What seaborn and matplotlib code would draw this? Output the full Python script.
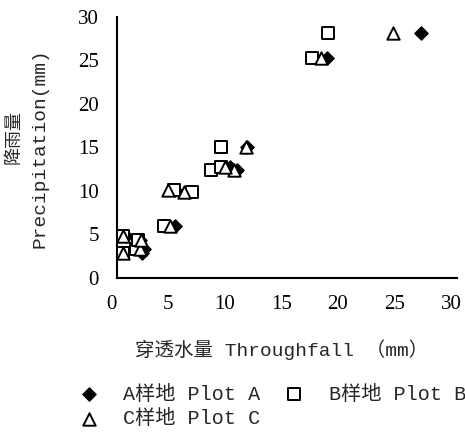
import matplotlib
matplotlib.use("Agg")
import matplotlib.pyplot as plt
import matplotlib.transforms as mtransforms
import seaborn as sns
import pandas as pd

# Data (precipitation per event and throughfall per plot)
precip   = [2.9, 3.3, 4.4, 4.8, 6.0, 9.9, 10.1, 12.4, 12.7, 15.0, 25.3, 28.2]
plot_a   = [2.2, 2.4, 2.0, 0.8, 5.1, 6.3, 5.1, 10.6, 10.0, 11.5, 18.5, 26.8]
plot_b   = [0.5, 1.7, 1.8, 0.5, 4.1, 6.6, 5.0, 8.3, 9.2, 9.2, 17.2, 18.6]
plot_c   = [0.5, 2.0, 2.1, 0.5, 4.7, 5.9, 4.5, 10.3, 9.5, 11.4, 18.0, 24.3]
labels   = ["A样地 Plot A", "B样地 Plot B", "C样地 Plot C"]
xticks   = [0, 5, 10, 15, 20, 25, 30]
yticks   = [0, 5, 10, 15, 20, 25, 30]

sns.set_style("white")
plt.rcParams['font.family'] = ['Liberation Mono', 'Noto Sans CJK SC', 'DejaVu Sans']

fig = plt.figure(figsize=(4.65, 4.33), dpi=100)
ax = fig.add_axes([0.252, 0.358, 0.731, 0.603])

df_a = pd.DataFrame({"x": plot_a, "y": precip})
df_b = pd.DataFrame({"x": plot_b, "y": precip})
df_c = pd.DataFrame({"x": plot_c, "y": precip})

sns.scatterplot(data=df_a, x="x", y="y", marker="D", s=45, color="black",
                edgecolor="black", linewidth=1.0, ax=ax, label=labels[0], zorder=3)
sns.scatterplot(data=df_b, x="x", y="y", marker="s", s=70, facecolor="white",
                edgecolor="black", linewidth=1.4, ax=ax, label=labels[1], zorder=3)
sns.scatterplot(data=df_c, x="x", y="y", marker="^", s=80, facecolor="white",
                edgecolor="black", linewidth=1.4, ax=ax, label=labels[2], zorder=4)

ax.set_xlim(0, 30)
ax.set_ylim(0, 30)
ax.set_xticks(xticks)
ax.set_yticks(yticks)
for side in ["top", "right"]:
    ax.spines[side].set_visible(False)
for side in ["left", "bottom"]:
    ax.spines[side].set_linewidth(1.5)
    ax.spines[side].set_color("black")
ax.tick_params(direction="in", length=5, width=1.5, colors="black", labelsize=15)
ax.tick_params(axis="x", pad=12)
ax.tick_params(axis="y", pad=13)
shift = mtransforms.ScaledTranslation(-6 / 100, 0, fig.dpi_scale_trans)
for lab in ax.get_xticklabels():
    lab.set_family(['Liberation Serif'])
    lab.set_transform(lab.get_transform() + shift)
for lab in ax.get_yticklabels():
    lab.set_family(['Liberation Serif'])

ax.set_xlabel("穿透水量 Throughfall （mm）", fontsize=14, va="center")
ax.xaxis.set_label_coords(0.485, -0.276)
ax.set_ylabel("Precipitation(mm)", fontsize=14, va="center")
ax.yaxis.set_label_coords(-0.226, 0.498)
ax.text(-0.303, 0.54, "降雨量", transform=ax.transAxes, rotation=90,
        fontsize=13, ha="center", va="center")

handles, labs = ax.get_legend_handles_labels()
ax.get_legend().remove()
order = [0, 2, 1]
fig.legend([handles[i] for i in order], [labs[i] for i in order],
           ncol=2, loc="upper left", bbox_to_anchor=(0.13, 0.13),
           frameon=False, fontsize=14.5, handletextpad=0.7, columnspacing=0.7,
           labelspacing=0.25, borderaxespad=0)

fig.savefig("out.png", dpi=100)
